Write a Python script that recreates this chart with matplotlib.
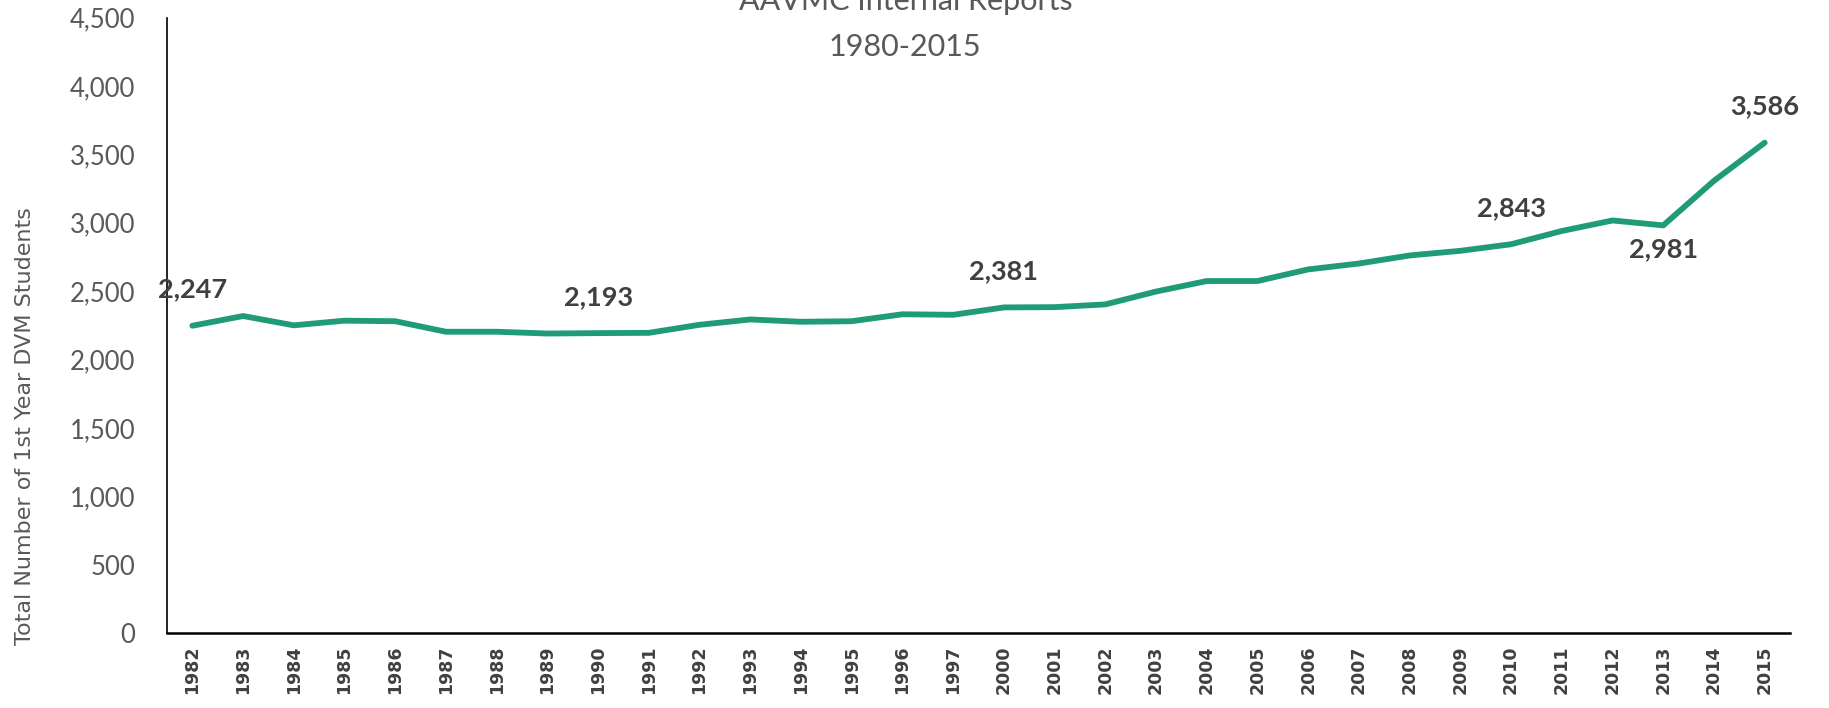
import matplotlib
matplotlib.use("Agg")
import matplotlib.pyplot as plt

years = ["1982", "1983", "1984", "1985", "1986", "1987", "1988", "1989", "1990", "1991",
         "1992", "1993", "1994", "1995", "1996", "1997", "2000", "2001", "2002", "2003",
         "2004", "2005", "2006", "2007", "2008", "2009", "2010", "2011", "2012", "2013",
         "2014", "2015"]
students = [2247, 2318, 2250, 2284, 2280, 2203, 2203, 2190, 2193, 2195,
            2254, 2293, 2276, 2280, 2331, 2327, 2381, 2383, 2403, 2497,
            2574, 2574, 2659, 2702, 2761, 2795, 2843, 2940, 3017, 2981,
            3307, 3586]
labeled = {"1982": "above", "1990": "above", "2000": "above", "2010": "above",
           "2013": "below", "2015": "above"}
yticks = [0, 500, 1000, 1500, 2000, 2500, 3000, 3500, 4000, 4500]

fig = plt.figure(figsize=(18.29, 7.08), dpi=100)
ax = fig.add_axes([0.0913, 0.106, 0.8874, 0.869])

x = list(range(len(years)))
ax.plot(x, students, color="#1F9C77", linewidth=4.2, solid_joinstyle="round",
        solid_capstyle="round")

ax.set_xlim(-0.5, len(years) - 0.5)
ax.set_ylim(0, 4500)
ax.set_yticks(yticks)
ax.set_yticklabels([f"{v:,}" for v in yticks], fontsize=18.5, color="#595959",
                   family="Lato")
ax.set_xticks(x)
ax.set_xticklabels(years, rotation=90, fontsize=12.5, fontweight="bold",
                   color="#404040", family="DejaVu Sans")
ax.tick_params(axis="x", length=0, pad=9)
ax.tick_params(axis="y", length=0, pad=23)

for s in ["top", "right"]:
    ax.spines[s].set_visible(False)
ax.spines["left"].set_color("#000000")
ax.spines["left"].set_linewidth(1.2)
ax.spines["bottom"].set_color("#000000")
ax.spines["bottom"].set_linewidth(1.8)

for i, (yr, v) in enumerate(zip(years, students)):
    if yr in labeled:
        off = 26 if labeled[yr] == "above" else -17
        ax.annotate(f"{v:,}", (i, v), xytext=(0, off), textcoords="offset points",
                    ha="center", va="center", fontsize=19.5, fontweight="bold",
                    color="#404040", family="Lato")

ax.set_ylabel("Total Number of 1st Year DVM Students", fontsize=16,
              color="#595959", family="DejaVu Sans")
ax.yaxis.set_label_coords(-0.0815, 0.336)

fig.text(0.495, 0.999, "AAVMC Internal Reports", ha="center", va="center",
         fontsize=22, color="#595959", family="Lato")
fig.text(0.495, 0.934, "1980-2015", ha="center", va="center",
         fontsize=22, color="#595959", family="Lato")

fig.savefig("out.png", dpi=100)
